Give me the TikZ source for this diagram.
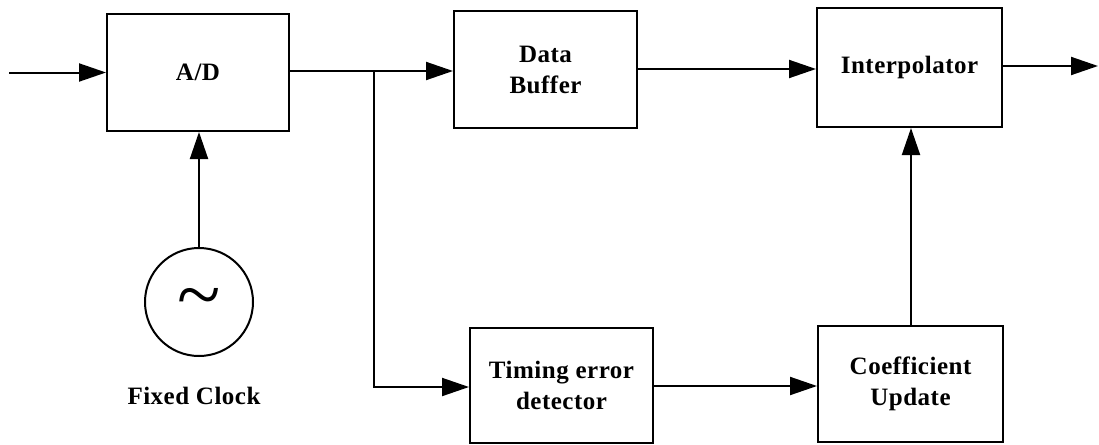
\documentclass[tikz,border=0pt]{standalone}
\usepackage{fontspec}
\setmainfont{Liberation Serif}[LetterSpace=2]
\usetikzlibrary{arrows.meta}
\begin{document}
\begin{tikzpicture}[x=1pt,y=-1pt,
  wire/.style={line width=2pt},
  flow/.style={wire,-{Triangle[length=27pt,width=18pt]}},
  block/.style={draw,line width=2pt,rectangle,inner sep=0pt,align=center,
    font=\fontsize{25}{31}\selectfont\bfseries},
  caption/.style={font=\fontsize{25}{31}\selectfont\bfseries}]
\useasboundingbox (0,0) rectangle (1099,444);

% processing blocks
\node[block,minimum width=182pt,minimum height=117pt] (ad)     at (198,72.5)  {A/D};
\node[block,minimum width=183pt,minimum height=117pt] (buf)    at (545.5,69.5) {Data\\Buffer};
\node[block,minimum width=185pt,minimum height=119pt] (interp) at (909.5,67.5) {Interpolator};
\node[block,minimum width=183pt,minimum height=115pt] (ted)    at (561.5,385.5) {Timing error\\detector};
\node[block,minimum width=185pt,minimum height=116pt] (coef)   at (910.5,384) {Coefficient\\Update};

% oscillator
\node[draw,circle,line width=2pt,minimum size=108pt,inner sep=0pt] (clk) at (199,302) {};
\node (tilde) at (199,305) {\fontsize{80}{80}\selectfont\textasciitilde};
\node[caption] (clklabel) at (194,396) {Fixed Clock};

% free ends and branch point
\coordinate (in)    at (9,72.5);
\coordinate (out)   at (1098,66);
\coordinate (split) at (374,71);

% connectors
\draw[flow] (in) -- (ad.west |- in);
\draw[flow] (clk.north) -- (clk.north |- ad.south);
\draw[wire] (ad.east |- split) -- (split);
\draw[flow] (split) -- (buf.west |- split);
\draw[flow] (split) |- (ted.west |- 0,387);
\draw[flow] (buf.east |- 0,69) -- (interp.west |- 0,69);
\draw[flow] (interp.east |- out) -- (out);
\draw[flow] (ted.east |- 0,386) -- (coef.west |- 0,386);
\draw[flow] (coef.north -| 911,0) -- (interp.south -| 911,0);
\end{tikzpicture}
\end{document}
